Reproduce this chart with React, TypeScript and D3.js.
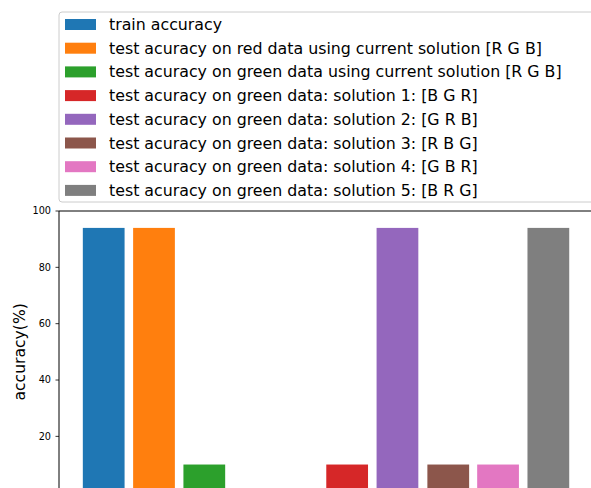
import React from "react";
import * as d3 from "d3";

// Bar labels (legend entries), in plotting order
const labels: string[] = [
  "train accuracy",
  "test acuracy on red data using current solution [R G B]",
  "test acuracy on green data using current solution [R G B]",
  "test acuracy on green data: solution 1: [B G R]",
  "test acuracy on green data: solution 2: [G R B]",
  "test acuracy on green data: solution 3: [R B G]",
  "test acuracy on green data: solution 4: [G B R]",
  "test acuracy on green data: solution 5: [B R G]",
];

// Bar positions along the x axis
const positions: number[] = [0, 1, 2, 4.84, 5.84, 6.85, 7.84, 8.84];

// Accuracy values (%)
const accuracy: number[] = [94, 94, 10, 10, 94, 10, 10, 94];

const colors: string[] = [
  "#1f77b4",
  "#ff7f0e",
  "#2ca02c",
  "#d62728",
  "#9467bd",
  "#8c564b",
  "#e377c2",
  "#7f7f7f",
];

const yTicks: number[] = [20, 40, 60, 80, 100];

const W = 591;
const H = 488;

export default function App() {
  // Plot area: left spine, top spine; the figure is clipped at right and bottom
  const left = 59;
  const top = 211;
  const yZero = 492.7;

  const y = d3.scaleLinear().domain([0, 100]).range([yZero, top]);
  const x = d3.scaleLinear().domain([0, 1]).range([103.7, 154]);
  const barW = x(0.83) - x(0);

  const font = "'DejaVu Sans', sans-serif";

  const legendX = 59;
  const legendY = 12;
  const rowH = 23.7;

  return (
    <div style={{ position: "fixed", left: 0, top: 0, width: W, height: H, background: "#fff" }}>
      <svg width={W} height={H} style={{ display: "block" }}>
        <rect x={0} y={0} width={W} height={H} fill="#fff" />

        {/* bars */}
        {accuracy.map((v, i) => (
          <rect
            key={i}
            x={x(positions[i]) - barW / 2}
            y={y(v)}
            width={barW}
            height={y(0) - y(v)}
            fill={colors[i]}
          />
        ))}

        {/* spines */}
        <line x1={left} x2={W + 2} y1={top} y2={top} stroke="#000" strokeWidth={1} />
        <line x1={left} x2={left} y1={top} y2={H + 2} stroke="#000" strokeWidth={1} />

        {/* y ticks */}
        {yTicks.map((t) => (
          <g key={t}>
            <line x1={left - 3.5} x2={left} y1={y(t)} y2={y(t)} stroke="#000" strokeWidth={0.8} />
            <text
              x={left - 8}
              y={y(t)}
              dy="0.35em"
              textAnchor="end"
              fontFamily={font}
              fontSize={9.7}
              fill="#000"
            >
              {t}
            </text>
          </g>
        ))}

        {/* y label */}
        <text
          transform={`translate(${20},${(top + yZero) / 2}) rotate(-90)`}
          textAnchor="middle"
          dy="0.35em"
          fontFamily={font}
          fontSize={15.6}
          fill="#000"
        >
          accuracy(%)
        </text>

        {/* legend */}
        <rect
          x={legendX}
          y={legendY}
          width={W}
          height={190}
          rx={3}
          fill="#fff"
          fillOpacity={0.8}
          stroke="#cccccc"
          strokeWidth={1}
        />
        {labels.map((lab, i) => {
          const cy = legendY + 12.5 + i * rowH;
          return (
            <g key={lab}>
              <rect x={65} y={cy - 5.5} width={31} height={11} fill={colors[i]} />
              <text
                x={109}
                y={cy}
                dy="0.35em"
                fontFamily={font}
                fontSize={15.8}
                fill="#000"
              >
                {lab}
              </text>
            </g>
          );
        })}
      </svg>
    </div>
  );
}
